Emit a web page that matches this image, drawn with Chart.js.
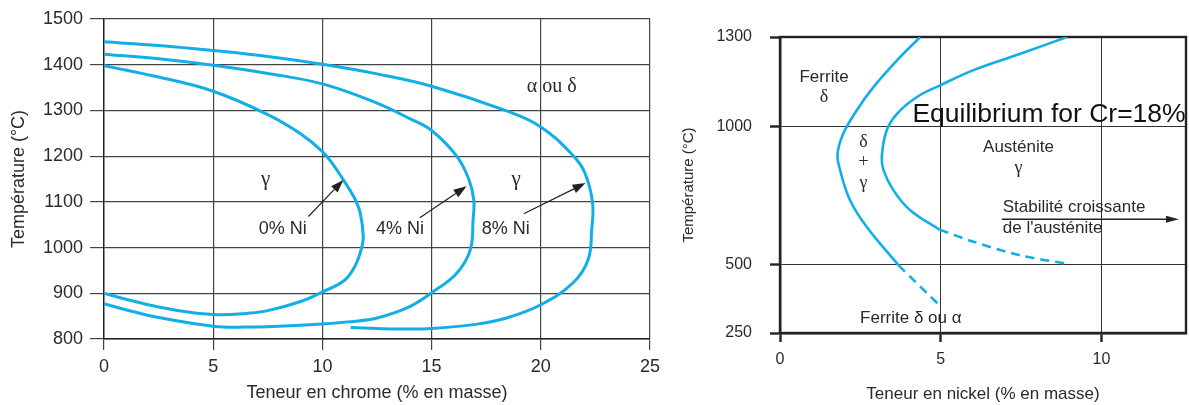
<!DOCTYPE html>
<html><head><meta charset="utf-8">
<script src="https://cdn.jsdelivr.net/npm/chart.js@4.4.1/dist/chart.umd.min.js"></script>
<style>
html,body{margin:0;padding:0;background:#fff;width:1189px;height:405px;overflow:hidden}
#l{position:absolute;left:0;top:0;width:680px;height:405px}
#r{position:absolute;left:680px;top:0;width:509px;height:405px}
</style></head><body>
<div id="l"><canvas id="c1"></canvas></div>
<div id="r"><canvas id="c2"></canvas></div>
<script>
// ---------- LEFT CHART DATA (Cr content vs temperature) ----------
const crTicks = [0, 5, 10, 15, 20, 25];
const tempTicksL = [800, 900, 1000, 1100, 1200, 1300, 1400, 1500];
const ni0X = [0, 2.5, 5, 7.5, 9, 10, 10.5, 10.96, 11.45, 11.73, 11.87, 11.8, 11.5, 11.0, 10, 9, 7.5, 6.5, 5.3, 4, 2.5, 1, 0];
const ni0Y = [1398, 1373, 1342, 1291, 1249, 1210, 1181, 1148, 1110, 1076, 1025, 1000, 960, 928, 903, 882, 862, 856, 853, 858, 870, 887, 900];
const ni4X = [0, 2.5, 5, 7.5, 10, 12.5, 14, 15, 16.15, 16.7, 16.93, 16.9, 16.77, 16.15, 15, 14, 12.5, 11.3, 10, 8, 6.5, 5, 2.5, 1, 0];
const ni4Y = [1423, 1413, 1399, 1381, 1358, 1316, 1282, 1256, 1200, 1150, 1105, 1061, 995, 944, 901, 871, 846, 838, 833, 828, 826, 828, 847, 864, 877];
const ni8X = [0, 2.5, 5, 7.5, 10, 12.5, 15, 18.37, 20, 21.5, 22.02, 22.37, 22.33, 22.17, 21.48, 20, 18.43, 17, 15, 13.5, 12.5, 11.3];
const ni8Y = [1450, 1442, 1431, 1418, 1401, 1380, 1353, 1300, 1264, 1200, 1163, 1098, 1039, 974, 923, 875, 846, 832, 823, 822, 823, 825];
const labelTextL = ['γ', 'γ', 'α ou δ', '0% Ni', '4% Ni', '8% Ni'];
const labelXL = [7.4, 18.87, 20.5, 8.18, 13.55, 18.4];
const labelYL = [1148, 1148, 1351, 1040, 1040, 1040];
const arrowFromXL = [9.36, 14.46, 19.22];
const arrowFromYL = [1068, 1065, 1074];
const arrowToXL = [10.96, 16.6, 22.05];
const arrowToYL = [1148, 1134, 1141];

// ---------- RIGHT CHART DATA (Ni content vs temperature, Cr=18%) ----------
const niTicks = [0, 5, 10];
const tempTicksR = [250, 500, 1000, 1300];
const deltaSolidX = [4.36, 3.64, 2.91, 2.39, 1.97, 1.79, 1.87, 2.18, 2.7, 3.69];
const deltaSolidY = [1300, 1222, 1133, 1055, 975, 900, 842, 733, 636, 497];
const deltaDashX = [3.69, 4.96];
const deltaDashY = [497, 351];
const gammaSolidX = [8.93, 7.48, 6.02, 4.98, 4.26, 3.64, 3.32, 3.17, 3.22, 3.53, 4.05, 4.97];
const gammaSolidY = [1300, 1244, 1189, 1138, 1099, 1043, 987, 895, 842, 769, 697, 626];
const gammaDashX = [4.97, 6.02, 7.48, 8.93];
const gammaDashY = [626, 583, 533, 503];
const labelTextR = ['Ferrite', 'δ', 'δ', '+', 'γ', 'Austénite', 'γ', 'Ferrite δ ou α'];
const labelXR = [1.37, 1.37, 2.6, 2.6, 2.6, 7.42, 7.42, 4.07];
const labelYR = [1164, 1099, 944, 870, 796, 926, 848, 305];
const noteTextR = ['Stabilité croissante', "de l'austénite"];
const noteXR = [6.93, 6.93];
const noteYR = [709, 631];
const stabArrowX = [6.9, 12.41];
const stabArrowY = [664, 664];
const equilText = 'Equilibrium for Cr=18%';
const equilX = 4.12, equilY = 1041;

const FONT = "'Liberation Sans', Arial, Helvetica, sans-serif";
const SERIF = "'Liberation Serif', 'Times New Roman', serif";
const BLUE = '#12aee8';
const TXT = '#2a2a2a';

function pts(xs, ys) { return xs.map((x, i) => ({ x: x, y: ys[i] })); }
function curve(xs, ys, w, dash) {
  return { data: pts(xs, ys), showLine: true, borderColor: BLUE, borderWidth: w,
    pointRadius: 0, tension: dash ? 0.3 : 0.4, fill: false, borderDash: dash || [], borderCapStyle: 'butt' };
}
function arrow(ctx, x1, y1, x2, y2, hl, hw, color, lw) {
  const a = Math.atan2(y2 - y1, x2 - x1);
  ctx.strokeStyle = color; ctx.fillStyle = color; ctx.lineWidth = lw;
  ctx.beginPath(); ctx.moveTo(x1, y1);
  ctx.lineTo(x2 - hl * Math.cos(a), y2 - hl * Math.sin(a)); ctx.stroke();
  ctx.beginPath(); ctx.moveTo(x2, y2);
  ctx.lineTo(x2 - hl * Math.cos(a) + hw / 2 * Math.sin(a), y2 - hl * Math.sin(a) - hw / 2 * Math.cos(a));
  ctx.lineTo(x2 - hl * Math.cos(a) - hw / 2 * Math.sin(a), y2 - hl * Math.sin(a) + hw / 2 * Math.cos(a));
  ctx.closePath(); ctx.fill();
}
const plainTick = v => String(v);

const leftAnnot = {
  id: 'leftAnnot',
  afterDatasetsDraw(chart) {
    const { ctx, scales: { x, y } } = chart;
    ctx.save();
    ctx.textAlign = 'center'; ctx.textBaseline = 'middle'; ctx.fillStyle = TXT;
    labelTextL.forEach((t, i) => {
      ctx.font = (t === 'γ' ? '21px ' + SERIF : t === 'α ou δ' ? '20px ' + SERIF : '18px ' + FONT);
      ctx.fillStyle = TXT;
      ctx.fillText(t, x.getPixelForValue(labelXL[i]), y.getPixelForValue(labelYL[i]));
    });
    arrowFromXL.forEach((v, i) => {
      arrow(ctx, x.getPixelForValue(v), y.getPixelForValue(arrowFromYL[i]),
        x.getPixelForValue(arrowToXL[i]), y.getPixelForValue(arrowToYL[i]), 13, 9, '#222', 1.2);
    });
    ctx.restore();
  }
};

new Chart(document.getElementById('c1'), {
  type: 'scatter',
  data: { datasets: [curve(ni0X, ni0Y, 3), curve(ni4X, ni4Y, 3), curve(ni8X, ni8Y, 3)] },
  options: {
    animation: false, responsive: true, maintainAspectRatio: false, devicePixelRatio: 1,
    layout: { padding: { left: 0, top: 19, right: 30, bottom: 0 } },
    plugins: { legend: { display: false }, tooltip: { enabled: false } },
    scales: {
      x: {
        type: 'linear', min: 0, max: 25,
        afterBuildTicks: a => { a.ticks = crTicks.map(v => ({ value: v })); },
        afterFit: a => { a.height = 66; },
        grid: { color: '#444', lineWidth: 1.2, tickLength: 11 },
        border: { color: '#222', width: 1.4 },
        ticks: { font: { family: FONT, size: 18 }, color: TXT, padding: 6, maxRotation: 0, autoSkip: false, callback: plainTick },
        title: { display: true, text: 'Teneur en chrome (% en masse)', font: { family: FONT, size: 18 }, color: TXT, padding: { top: 0, bottom: 1 } }
      },
      y: {
        type: 'linear', min: 800, max: 1500,
        afterBuildTicks: a => { a.ticks = tempTicksL.map(v => ({ value: v })); },
        afterFit: a => { a.width = 104; },
        grid: { color: '#444', lineWidth: 1.2, tickLength: 14 },
        border: { color: '#222', width: 1.4 },
        ticks: { font: { family: FONT, size: 18 }, color: TXT, padding: 7, autoSkip: false, callback: plainTick },
        title: { display: true, text: 'Température (°C)', font: { family: FONT, size: 18 }, color: TXT, padding: { top: 8, bottom: 0 } }
      }
    }
  },
  plugins: [leftAnnot]
});

// ---------- custom piecewise-linear temperature scale (right chart axis is not uniform) ----------
const BREAK_VALUES = tempTicksR;
const BREAK_FRACS = [0, 0.2311, 0.6973, 1];
function valToFrac(v) {
  const b = BREAK_VALUES, f = BREAK_FRACS;
  let i = 0;
  while (i < b.length - 2 && v > b[i + 1]) i++;
  return f[i] + (v - b[i]) / (b[i + 1] - b[i]) * (f[i + 1] - f[i]);
}
function fracToVal(d) {
  const b = BREAK_VALUES, f = BREAK_FRACS;
  let i = 0;
  while (i < f.length - 2 && d > f[i + 1]) i++;
  return b[i] + (d - f[i]) / (f[i + 1] - f[i]) * (b[i + 1] - b[i]);
}
class BrokenScale extends Chart.LinearScale {
  getPixelForValue(v) { return (v === null || v === undefined) ? NaN : this.getPixelForDecimal(valToFrac(v)); }
  getValueForPixel(p) { return fracToVal(this.getDecimalForPixel(p)); }
}
BrokenScale.id = 'broken';
BrokenScale.defaults = {};
Chart.register(BrokenScale);

const rightAnnot = {
  id: 'rightAnnot',
  beforeDatasetsDraw(chart) {
    const { ctx, chartArea: ca } = chart;
    ctx.save();
    ctx.strokeStyle = '#222'; ctx.lineWidth = 2.4;
    ctx.strokeRect(ca.left, ca.top, ca.right - ca.left, ca.bottom - ca.top);
    ctx.restore();
  },
  afterDatasetsDraw(chart) {
    const { ctx, scales: { x, y } } = chart;
    ctx.save();
    ctx.textBaseline = 'middle'; ctx.fillStyle = TXT;
    ctx.textAlign = 'center';
    labelTextR.forEach((t, i) => {
      ctx.font = (t.length === 1 ? '18px ' + SERIF : '17px ' + FONT);
      ctx.fillText(t, x.getPixelForValue(labelXR[i]), y.getPixelForValue(labelYR[i]));
    });
    ctx.textAlign = 'left'; ctx.font = '17px ' + FONT;
    noteTextR.forEach((t, i) => {
      ctx.fillText(t, x.getPixelForValue(noteXR[i]), y.getPixelForValue(noteYR[i]));
    });
    arrow(ctx, x.getPixelForValue(stabArrowX[0]), y.getPixelForValue(stabArrowY[0]),
      x.getPixelForValue(stabArrowX[1]), y.getPixelForValue(stabArrowY[1]), 13, 7, '#222', 1.5);
    ctx.fillStyle = '#111'; ctx.font = '26.5px ' + FONT;
    ctx.fillText(equilText, x.getPixelForValue(equilX), y.getPixelForValue(equilY));
    ctx.restore();
  }
};

new Chart(document.getElementById('c2'), {
  type: 'scatter',
  data: { datasets: [
    curve(deltaSolidX, deltaSolidY, 2.6), curve(deltaDashX, deltaDashY, 2.6, [9, 6]),
    curve(gammaSolidX, gammaSolidY, 2.6), curve(gammaDashX, gammaDashY, 2.6, [9, 6])
  ] },
  options: {
    animation: false, responsive: true, maintainAspectRatio: false, devicePixelRatio: 1,
    layout: { padding: { left: 0, top: 37, right: 3, bottom: 0 } },
    plugins: { legend: { display: false }, tooltip: { enabled: false } },
    scales: {
      x: {
        type: 'linear', min: 0, max: 12.63,
        afterBuildTicks: a => { a.ticks = niTicks.map(v => ({ value: v })); },
        afterFit: a => { a.height = 72; },
        grid: { color: '#333', lineWidth: 1, tickLength: 9, tickWidth: 2.4, tickColor: '#222' },
        border: { color: '#222', width: 2.4 },
        ticks: { font: { family: FONT, size: 16 }, color: TXT, padding: 8, maxRotation: 0, autoSkip: false, callback: plainTick },
        title: { display: true, text: 'Teneur en nickel (% en masse)', font: { family: FONT, size: 17 }, color: TXT, padding: { top: 0, bottom: 0 } }
      },
      y: {
        type: 'broken', min: 250, max: 1300,
        afterBuildTicks: a => { a.ticks = tempTicksR.map(v => ({ value: v })); },
        afterFit: a => { a.width = 100; },
        grid: { color: '#333', lineWidth: 1, tickLength: 10, tickWidth: 2.4, tickColor: '#222' },
        border: { color: '#222', width: 2.4 },
        ticks: { font: { family: FONT, size: 16 }, color: TXT, padding: 18, autoSkip: false, callback: plainTick },
        title: { display: true, text: 'Température (°C)', font: { family: FONT, size: 15 }, color: TXT, padding: { top: 0, bottom: 0 } }
      }
    }
  },
  plugins: [rightAnnot]
});
</script>
</body></html>
